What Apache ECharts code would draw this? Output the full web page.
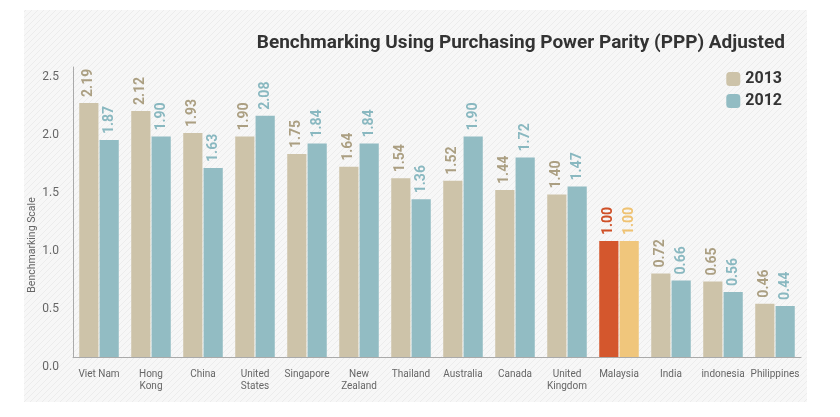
<!DOCTYPE html>
<html>
<head>
<meta charset="utf-8">
<script src="https://cdn.jsdelivr.net/npm/echarts@6/dist/echarts.min.js"></script>
<style>
  html, body { margin: 0; padding: 0; background: #fff; }
  #chart { width: 840px; height: 417px; }
</style>
</head>
<body>
<div id="chart"></div>
<script>
// data
const countries = ['Viet Nam', 'Hong\nKong', 'China', 'United\nStates', 'Singapore', 'New\nZealand',
  'Thailand', 'Australia', 'Canada', 'United\nKingdom', 'Malaysia', 'India', 'indonesia', 'Philippines']
const values2013 = [2.19, 2.12, 1.93, 1.90, 1.75, 1.64, 1.54, 1.52, 1.44, 1.40, 1.00, 0.72, 0.65, 0.46]
const values2012 = [1.87, 1.90, 1.63, 2.08, 1.84, 1.84, 1.36, 1.90, 1.72, 1.47, 1.00, 0.66, 0.56, 0.44]
const yTicks = [0, 0.5, 1.0, 1.5, 2.0, 2.5]

const highlight = 'Malaysia'

// light diagonal hatch for the panel
function hatch() {
  const c = document.createElement('canvas')
  c.width = 6; c.height = 6
  const ctx = c.getContext('2d')
  ctx.fillStyle = '#f7f7f7'
  ctx.fillRect(0, 0, 6, 6)
  ctx.strokeStyle = '#ececec'
  ctx.lineWidth = 1
  ctx.beginPath()
  ctx.moveTo(0, 6); ctx.lineTo(6, 0)
  ctx.moveTo(-3, 3); ctx.lineTo(3, -3)
  ctx.moveTo(3, 9); ctx.lineTo(9, 3)
  ctx.stroke()
  return c
}

function makeData(vals, barColor, hiBar, labelColor, hiLabel) {
  return vals.map((v, i) => {
    const hi = countries[i] === highlight
    return {
      value: v,
      itemStyle: { color: hi ? hiBar : barColor },
      label: { color: hi ? hiLabel : labelColor }
    }
  })
}

const labelStyle = {
  show: true,
  position: 'top',
  rotate: 90,
  align: 'left',
  verticalAlign: 'middle',
  distance: 6,
  fontFamily: 'Roboto',
  fontWeight: 'bold',
  fontSize: 14,
  formatter: p => p.value.toFixed(2)
}

const chart = echarts.init(document.getElementById('chart'))
chart.setOption({
  animation: false,
  graphic: [{
    type: 'rect',
    z: -10,
    shape: { x: 24, y: 10, width: 783, height: 392 },
    style: { fill: { image: hatch(), repeat: 'repeat' } }
  }],
  title: {
    text: 'Benchmarking Using Purchasing Power Parity (PPP) Adjusted',
    right: 50,
    top: 29,
    textStyle: { fontFamily: 'Roboto', fontWeight: 'bold', fontSize: 19, color: '#333' }
  },
  legend: {
    orient: 'vertical',
    right: 53,
    top: 66,
    itemWidth: 14,
    itemHeight: 14,
    itemGap: 6,
    textStyle: { fontFamily: 'Roboto', fontWeight: 'bold', fontSize: 16, color: '#333' }
  },
  grid: { left: 73, right: 39, top: 67, bottom: 60 },
  xAxis: {
    type: 'category',
    data: countries,
    axisLine: { lineStyle: { color: '#aaa' } },
    axisTick: { show: false },
    axisLabel: { color: '#666', fontFamily: 'Roboto', fontSize: 10, lineHeight: 12, margin: 11, interval: 0 }
  },
  yAxis: {
    type: 'value',
    min: yTicks[0],
    max: yTicks[yTicks.length - 1],
    interval: 0.5,
    name: 'Benchmarking Scale',
    nameLocation: 'middle',
    nameGap: 35,
    nameMoveOverlap: false,
    nameTextStyle: { color: '#666', fontFamily: 'Roboto', fontSize: 10.5, padding: [0, 66, 0, 0] },
    axisLine: { show: true, lineStyle: { color: '#aaa' } },
    axisTick: { show: false },
    splitLine: { show: false },
    axisLabel: {
      color: '#666', fontFamily: 'Roboto', fontSize: 12, margin: 14,
      verticalAlign: 'top',
      padding: [4, 0, 0, 0],
      formatter: v => v.toFixed(1)
    }
  },
  series: [{
    name: '2013',
    type: 'bar',
    color: '#cdc3a9',
    barGap: '6%',
    barCategoryGap: '24%',
    data: makeData(values2013, '#cdc3a9', '#d4572d', '#ab9f82', '#cf4f26'),
    label: labelStyle
  }, {
    name: '2012',
    type: 'bar',
    color: '#92bcc3',
    data: makeData(values2012, '#92bcc3', '#f0c67c', '#89b8c0', '#efc272'),
    label: labelStyle
  }]
})
</script>
</body>
</html>
